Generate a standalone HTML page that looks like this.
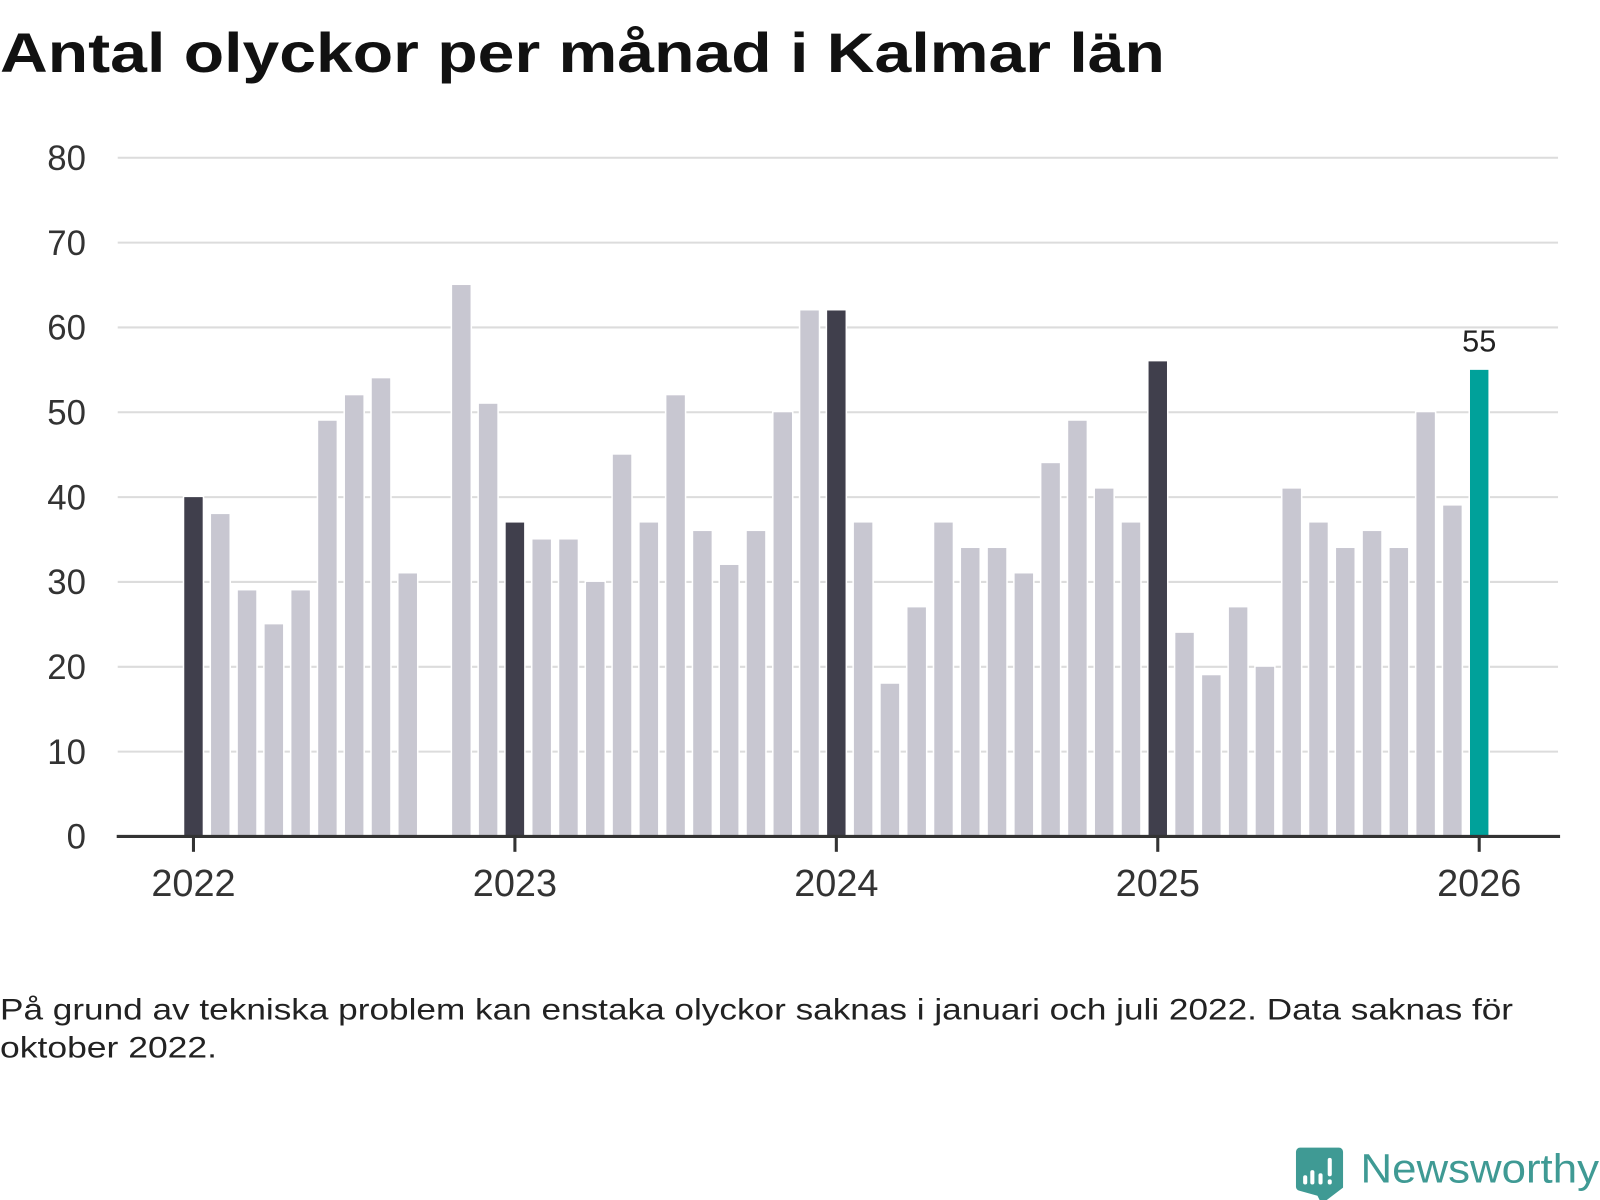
<!DOCTYPE html>
<html><head><meta charset="utf-8"><style>
html,body{margin:0;padding:0;background:#fff;}
svg{display:block;font-family:"Liberation Sans","DejaVu Sans",sans-serif;}
</style></head><body>
<svg id="chart" width="1600" height="1200" viewBox="0 0 1563 1172" xmlns="http://www.w3.org/2000/svg">
<text x="0" y="70" font-size="54" font-weight="bold" fill="#111" textLength="1138" lengthAdjust="spacingAndGlyphs">Antal olyckor per månad i Kalmar län</text>
<g id="grid"></g><g id="bars"></g><g id="axis"></g>
<text x="0" y="996" font-size="29" fill="#222" textLength="1478" lengthAdjust="spacingAndGlyphs">På grund av tekniska problem kan enstaka olyckor saknas i januari och juli 2022. Data saknas för</text>
<text x="0" y="1033" font-size="29" fill="#222" textLength="212" lengthAdjust="spacingAndGlyphs">oktober 2022.</text>
<g>
<path d="M1266 1121 h42 a4 4 0 0 1 4 4 v35 l-21 16 l-4 -8 l-18 -5 a4 4 0 0 1 -3 -4 v-34 a4 4 0 0 1 4 -4z" fill="#3f9a94"/>
<rect x="1273" y="1148" width="4" height="9" rx="2" fill="#fff"/><rect x="1280" y="1143" width="4" height="14" rx="2" fill="#fff"/><rect x="1288" y="1146" width="4" height="11" rx="2" fill="#fff"/><rect x="1297" y="1131" width="4" height="18" rx="2" fill="#fff"/><rect x="1297" y="1152" width="4" height="5" rx="2" fill="#fff"/>
<text x="1329" y="1155" font-size="40" fill="#3f9a94" textLength="233" lengthAdjust="spacingAndGlyphs">Newsworthy</text>
</g>
</svg>
<script>
const months=["2022-01","2022-02","2022-03","2022-04","2022-05","2022-06","2022-07","2022-08","2022-09","2022-10","2022-11","2022-12","2023-01","2023-02","2023-03","2023-04","2023-05","2023-06","2023-07","2023-08","2023-09","2023-10","2023-11","2023-12","2024-01","2024-02","2024-03","2024-04","2024-05","2024-06","2024-07","2024-08","2024-09","2024-10","2024-11","2024-12","2025-01","2025-02","2025-03","2025-04","2025-05","2025-06","2025-07","2025-08","2025-09","2025-10","2025-11","2025-12","2026-01"];
const values=[40,38,29,25,29,49,52,54,31,null,65,51,37,35,35,30,45,37,52,36,32,36,50,62,62,37,18,27,37,34,34,31,44,49,41,37,56,24,19,27,20,41,37,34,36,34,50,39,55];
const yTicks=[0,10,20,30,40,50,60,70,80];
const yearTicks=["2022","2023","2024","2025","2026"];
const NS="http://www.w3.org/2000/svg";
const y0=817,yPer=(817-154)/80;
const y=v=>y0-v*yPer;
const x=i=>189+i*(1445-189)/48;
function mk(tag,attrs,parent,txt){const e=document.createElementNS(NS,tag);for(const k in attrs)e.setAttribute(k,attrs[k]);if(txt!==undefined)e.textContent=txt;parent.appendChild(e);return e;}
const grid=document.getElementById('grid'),bars=document.getElementById('bars'),axis=document.getElementById('axis');
yTicks.forEach(t=>{
  if(t>0){const l=mk('line',{x1:115,x2:1522,y1:y(t),y2:y(t),stroke:'#dcdcdc','stroke-width':2},grid);
  
  }
  const tx=mk('text',{x:84,y:y(t)+12,'font-size':34,fill:'#333','text-anchor':'end'},axis,String(t));
  
  
});
values.forEach((v,i)=>{
  if(v===null)return;
  const last=i===values.length-1, jan=months[i].endsWith('-01');
  const r=mk('rect',{x:x(i)-9,y:y(v),width:18,height:y0-y(v),fill:last?'#00a19a':(jan?'#403f4c':'#c8c7d1'),stroke:'#fff','stroke-width':3,'paint-order':'stroke'},bars);
  
  
  if(last){const lb=mk('text',{x:x(i),y:y(v)-18,'font-size':30,fill:'#222','text-anchor':'middle'},bars,String(v));
  
  }
});
const ax=mk('line',{x1:114,x2:1524,y1:y0,y2:y0,stroke:'#333','stroke-width':3},axis);


yearTicks.forEach((yr,k)=>{
  const xi=x(k*12);
  const tk=mk('line',{x1:xi,x2:xi,y1:y0,y2:y0+15,stroke:'#333','stroke-width':3},axis);
  
  
  const t=mk('text',{x:xi,y:875,'font-size':37,fill:'#333','text-anchor':'middle'},axis,yr);
  
  
});
</script>
</body></html>
